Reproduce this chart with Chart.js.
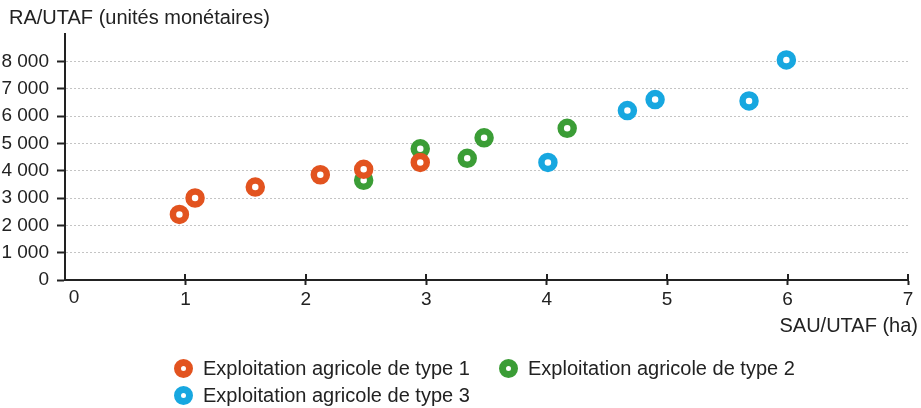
<!DOCTYPE html>
<html>
<head>
<meta charset="utf-8">
<script src="https://cdn.jsdelivr.net/npm/chart.js@4/dist/chart.umd.min.js"></script>
<style>
body { margin: 0; background: #fff; font-family: "Liberation Sans", Arial, sans-serif; color: #222; }
#wrap { position: relative; width: 921px; height: 408px; }
#chart { position: absolute; left: 0; top: 0; }
.ytitle { position: absolute; left: 9px; top: 6px; font-size: 20px; line-height: 23px; }
.xtitle { position: absolute; right: 3px; top: 314px; font-size: 20px; line-height: 23px; }
.dot { position: absolute; width: 5px; height: 5px; border: 7px solid; border-radius: 50%; background: #fff; }
.txt { position: absolute; white-space: nowrap; font-size: 20px; line-height: 23px; }
</style>
</head>
<body>
<div id="wrap">
  <canvas id="chart" width="921" height="408"></canvas>
  <div class="ytitle">RA/UTAF (unités monétaires)</div>
  <div class="xtitle">SAU/UTAF (ha)</div>
  <div id="legend"></div>
</div>
<script>
// valeurs
var type1X = [0.95, 1.08, 1.58, 2.12, 2.48, 2.95]
var type1Y = [2400, 3000, 3400, 3850, 4050, 4300]
var type2X = [2.48, 2.95, 3.34, 3.48, 4.17]
var type2Y = [3650, 4800, 4450, 5200, 5550]
var type3X = [4.01, 4.67, 4.90, 5.68, 5.99]
var type3Y = [4300, 6200, 6600, 6550, 8050]
var labels = ["Exploitation agricole de type 1", "Exploitation agricole de type 2", "Exploitation agricole de type 3"]
var colors = ["#e2531f", "#3b9d36", "#17a7e0"]

function points(xs, ys) {
    var out = []
    for (var i = 0; i < xs.length; i++) out.push({ x: xs[i], y: ys[i] })
    return out
}

function makeSet(i, data) {
    return {
        label: labels[i],
        data: data,
        borderColor: colors[i],
        backgroundColor: "#fff",
        pointRadius: 6.5,
        pointHoverRadius: 6.5,
        borderWidth: 6.5,
        pointBorderWidth: 6.5
    }
}

var axisColor = "#222"
var fontFam = "'Liberation Sans', Arial, sans-serif"
var tickFont = { family: fontFam, size: 19 }

// traits au-dessus de l'axe des x + le "0" décalé à droite
var xExtras = {
    id: "xExtras",
    afterDraw: function (chart) {
        var ctx = chart.ctx, sx = chart.scales.x, b = chart.chartArea.bottom
        ctx.save()
        ctx.strokeStyle = axisColor
        ctx.lineWidth = 2
        sx.ticks.forEach(function (t) {
            if (t.value === 0) return
            var px = Math.round(sx.getPixelForValue(t.value))
            ctx.beginPath()
            ctx.moveTo(px, b - 6)
            ctx.lineTo(px, b)
            ctx.stroke()
        })
        ctx.fillStyle = "#222"
        ctx.font = "19px " + fontFam
        ctx.textAlign = "center"
        ctx.textBaseline = "top"
        ctx.fillText("0", sx.getPixelForValue(0) + 9, b + 8)
        ctx.restore()
    }
}

new Chart(document.getElementById("chart"), {
    type: "scatter",
    data: {
        datasets: [
            makeSet(0, points(type1X, type1Y)),
            makeSet(1, points(type2X, type2Y)),
            makeSet(2, points(type3X, type3Y))
        ]
    },
    options: {
        responsive: false,
        animation: false,
        layout: { padding: { top: 34, right: 7, left: 0, bottom: 0 } },
        plugins: { legend: { display: false }, tooltip: { enabled: false } },
        scales: {
            x: {
                type: "linear",
                min: 0, max: 7,
                afterFit: function (s) { s.height = 128 },
                border: { display: true, color: axisColor, width: 2 },
                grid: {
                    drawOnChartArea: false,
                    tickLength: 5,
                    tickWidth: 2,
                    tickColor: function (c) { return c.tick && c.tick.value === 0 ? "rgba(0,0,0,0)" : axisColor }
                },
                ticks: {
                    stepSize: 1, padding: 3, color: "#222", font: tickFont, maxRotation: 0,
                    callback: function (v) { return v === 0 ? "" : String(v) }
                }
            },
            y: {
                min: 0, max: 9000,
                afterFit: function (s) { s.width = 65 },
                border: { display: true, color: axisColor, width: 2, dash: [2, 2] },
                grid: {
                    color: function (c) {
                        var v = c.tick ? c.tick.value : 0
                        return (v === 0 || v === 9000) ? "rgba(0,0,0,0)" : "#c4c4c4"
                    },
                    lineWidth: 1,
                    tickLength: 8,
                    tickWidth: 2,
                    tickColor: function (c) { return c.tick && c.tick.value === 9000 ? "rgba(0,0,0,0)" : axisColor }
                },
                ticks: {
                    stepSize: 1000,
                    padding: 8,
                    color: "#222",
                    font: tickFont,
                    callback: function (v) {
                        if (v === 9000) return ""
                        return String(v).replace(/\B(?=(\d{3})+(?!\d))/g, " ")
                    }
                }
            }
        }
    },
    plugins: [xExtras]
})

// légende en html, mêmes couleurs que les séries
var legendPos = [[183, 368], [508, 368], [183, 395]]
var legend = document.getElementById("legend")
for (var i = 0; i < labels.length; i++) {
    var dot = document.createElement("div")
    dot.className = "dot"
    dot.style.borderColor = colors[i]
    dot.style.left = (legendPos[i][0] - 9.5) + "px"
    dot.style.top = (legendPos[i][1] - 9.5) + "px"
    var txt = document.createElement("div")
    txt.className = "txt"
    txt.style.left = (legendPos[i][0] + 20) + "px"
    txt.style.top = (legendPos[i][1] - 11.5) + "px"
    txt.textContent = labels[i]
    legend.appendChild(dot)
    legend.appendChild(txt)
}
</script>
</body>
</html>
